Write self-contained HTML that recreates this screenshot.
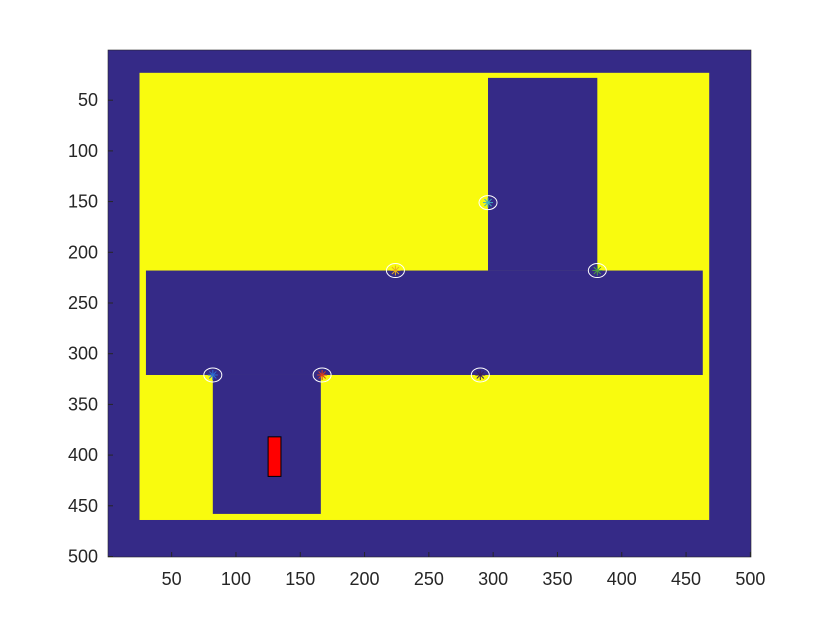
<!DOCTYPE html>
<html><head><meta charset="utf-8"><style>
body{margin:0;background:#fff;width:830px;height:630px;overflow:hidden}
text{font-family:"Liberation Sans",sans-serif;font-size:18px;fill:#262626}
</style></head><body>
<svg id="c" width="830" height="630"></svg>
<script>
const xTicks=[50,100,150,200,250,300,350,400,450,500];
const yTicks=[50,100,150,200,250,300,350,400,450,500];
const freeRects=[[25,23,468,464]]; // x1,y1,x2,y2 yellow
const obstacleRects=[[30,218,463,321],[296,28,381,218],[82,321,166,458]];
const robotRect=[125,382,135,421];
const markerX=[82,167,290,224,296,381];
const markerY=[321,321,321,218,151,218];
const markerColors=['#2a6fd6','#d9401a','#3b1d5a','#e8b020','#40b0c0','#50a040'];
const L=108,T=50,R=751,B=557;
const sx=d=>L+(d-0.5)*(R-L)/500, sy=d=>T+(d-0.5)*(B-T)/500;
const svg=document.getElementById('c');const NS='http://www.w3.org/2000/svg';
function mk(tag,at,name,p){const e=document.createElementNS(NS,tag);for(const k in at)e.setAttribute(k,at[k]);


(p||svg).appendChild(e);return e;}
mk('rect',{x:L,y:T,width:R-L,height:B-T,fill:'#352a87'},'plot-background');
freeRects.forEach(r=>mk('rect',{x:sx(r[0]),y:sy(r[1]),width:sx(r[2])-sx(r[0]),height:sy(r[3])-sy(r[1]),fill:'#f9fb0e'},'free-space'));
obstacleRects.forEach(r=>mk('rect',{x:sx(r[0]),y:sy(r[1]),width:sx(r[2])-sx(r[0]),height:sy(r[3])-sy(r[1]),fill:'#352a87'},'corridor-region'));
mk('rect',{x:sx(robotRect[0]),y:sy(robotRect[1]),width:sx(robotRect[2])-sx(robotRect[0]),height:sy(robotRect[3])-sy(robotRect[1]),fill:'#ff0000',stroke:'#000','stroke-width':1},'robot');
markerX.forEach((x,i)=>{const cx=sx(x),cy=sy(markerY[i]);
 mk('ellipse',{cx:cx,cy:cy,rx:9,ry:7,fill:'none',stroke:'#fff','stroke-width':1},'marker-circle');
 for(let a=0;a<4;a++){const t=a*Math.PI/4;mk('line',{x1:cx-5*Math.cos(t),y1:cy-5*Math.sin(t),x2:cx+5*Math.cos(t),y2:cy+5*Math.sin(t),stroke:markerColors[i],'stroke-width':1},'marker-star');}
});
mk('rect',{x:L,y:T,width:R-L,height:B-T,fill:'none',stroke:'#262626','stroke-width':0.6},'axes-box');
xTicks.forEach(v=>{const x=sx(v);mk('line',{x1:x,y1:B,x2:x,y2:B-5,stroke:'#262626'},'x-tick');
 const t=mk('text',{x:x,y:B+28,'text-anchor':'middle'},'x-tick-label');t.textContent=v;});
yTicks.forEach(v=>{const y=sy(v);mk('line',{x1:L,y1:y,x2:L+5,y2:y,stroke:'#262626'},'y-tick');
 const t=mk('text',{x:L-10,y:y+6,'text-anchor':'end'},'y-tick-label');t.textContent=v;});
</script>
</body></html>
